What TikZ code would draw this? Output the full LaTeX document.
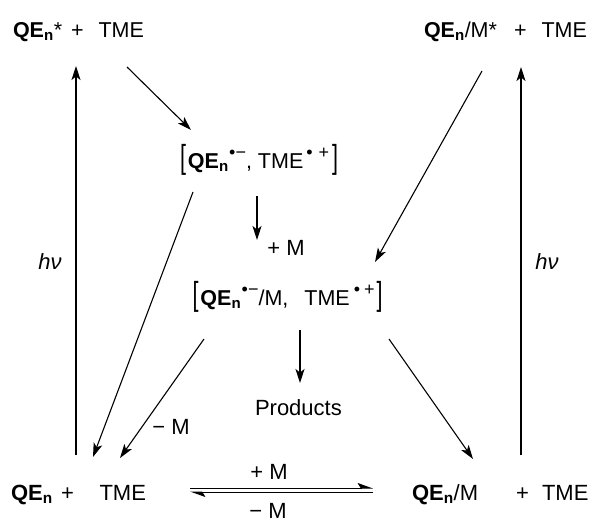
\documentclass[tikz,border=0pt]{standalone}
\usepackage{fontspec}
\setmainfont{Liberation Sans}
\usepackage{graphicx}
\usetikzlibrary{arrows.meta}
\newcommand{\qe}{\textbf{QE}\textsubscript{\textbf{n}}}
\newcommand{\radsup}[1]{\raisebox{10pt}{\fontsize{18}{18}\selectfont #1}}
\newcommand{\lbr}{\scalebox{1}[1.55]{[}}
\newcommand{\rbr}{\scalebox{1}[1.55]{]}}
\begin{document}
\begin{tikzpicture}[x=1pt,y=-1pt,
  every node/.style={inner sep=0pt, outer sep=0pt},
  bigfont/.style={font=\fontsize{22}{26}\selectfont},
  topfont/.style={font=\fontsize{21.5}{25}\selectfont},
  brfont/.style={font=\fontsize{21.5}{25}\selectfont},
  sp/.style={anchor=base west},
  arr/.style={line width=1.1pt, -{Stealth[length=14pt,width=9pt,inset=3.5pt]}},
  harp/.style={line width=1pt, -{Stealth[harpoon,length=14pt,width=10pt,inset=3pt]}}]
\useasboundingbox (0,0) rectangle (591,522);
% top row
\node[sp,topfont] (tl) at (13,37) {\qe*};
\node[sp,topfont] (tlp) at (71,37) {+};
\node[sp,topfont] (tlt) at (98.5,37) {TME};
\node[sp,topfont] (tr) at (424,37) {\qe/M*};
\node[sp,topfont] (trp) at (514,37) {+};
\node[sp,topfont] (trt) at (541.5,37) {TME};
% brackets
\node[sp,brfont] (b1) at (180,168) {\lbr\hspace{2pt}\qe\hspace{0.5pt}\radsup{•−}, TME\hspace{3pt}\radsup{•\hspace{6pt}+}\hspace{3pt}\rbr};
\node[sp,brfont] (b2) at (192.5,305) {\lbr\hspace{2pt}\qe\hspace{0.5pt}\radsup{•−}/M,\hspace{16pt}TME\hspace{4pt}\radsup{•\hspace{4pt}+}\hspace{2pt}\rbr};
\node[sp,bigfont] (pr) at (255,415) {Products};
% bottom row
\node[sp,bigfont] (bl) at (11,500) {\qe};
\node[sp,bigfont] (blp) at (61,500) {+};
\node[sp,bigfont] (blt) at (99.5,500) {TME};
\node[sp,bigfont] (br) at (412,500) {\qe/M};
\node[sp,bigfont] (brp) at (516,500) {+};
\node[sp,bigfont] (brt) at (542,500) {TME};
% labels
\node[bigfont] (hl) at (50,262) {\textit{hν}};
\node[bigfont] (hr) at (547,262) {\textit{hν}};
\node[bigfont] (l1) at (286,248) {+ M};
\node[bigfont] (l2) at (171,427) {− M};
\node[bigfont] (l3) at (269,472) {+ M};
\node[bigfont] (l4) at (268,511) {− M};
% arrows
\draw[arr] ([shift={(65,-45)}]bl.base west) -- ([shift={(63,29)}]tl.base west);
\draw[arr] ([shift={(114,30)}]tl.base west) -- ([shift={(11,-38)}]b1.base west);
\draw[arr] ([shift={(13,24)}]b1.base west) -- ([shift={(82,-43)}]bl.base west);
\draw[arr] ([shift={(77,28)}]b1.base west) -- ([shift={(64.5,-65)}]b2.base west);
\draw[arr] ([shift={(58,34)}]tr.base west) -- ([shift={(182.5,-43)}]b2.base west);
\draw[arr] ([shift={(11.5,34)}]b2.base west) -- ([shift={(109,-42)}]bl.base west);
\draw[arr] ([shift={(107.5,25)}]b2.base west) -- ([shift={(45,-32)}]pr.base west);
\draw[arr] ([shift={(196.5,34)}]b2.base west) -- ([shift={(61,-41)}]br.base west);
\draw[arr] ([shift={(109,-45)}]br.base west) -- ([shift={(97,30)}]tr.base west);
% equilibrium
\draw[harp] ([shift={(179,-12)}]bl.base west) -- ([shift={(-39,-12)}]br.base west);
\draw[harp] ([shift={(-39,-8)}]br.base west) -- ([shift={(179,-8)}]bl.base west);
\end{tikzpicture}
\end{document}
